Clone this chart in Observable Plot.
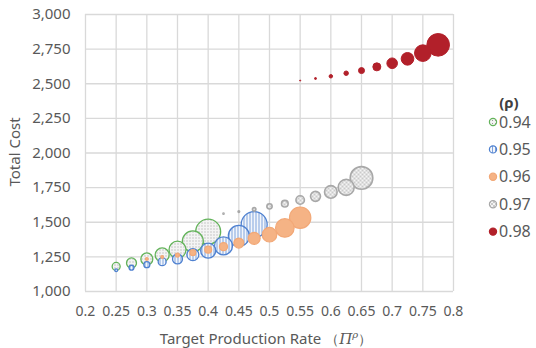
<!DOCTYPE html>
<html><head><meta charset="utf-8">
<script src="https://cdn.jsdelivr.net/npm/d3@7"></script>
<script src="https://cdn.jsdelivr.net/npm/@observablehq/plot@0.6"></script>
<style>
body{margin:0;background:#fff}
svg{font-family:"Noto Sans",sans-serif}
</style></head>
<body><div id="chart"></div>
<script>
const rhoLabels = ["0.94","0.95","0.96","0.97","0.98"];
const rate94 = [0.25,0.275,0.3,0.325,0.35,0.375,0.4];
const cost94 = [1181,1206,1235,1264,1302,1362,1432];
const size94 = [16,25,36,49,72,110,156];
const rate95 = [0.25,0.275,0.3,0.325,0.35,0.375,0.4,0.425,0.45,0.475];
const cost95 = [1153,1172,1194,1215,1235,1266,1295,1329,1401,1483];
const size95 = [2,6,9,16,25,36,56,81,110,169];
const rate96 = [0.3,0.325,0.35,0.375,0.4,0.425,0.45,0.475,0.5,0.525,0.55];
const cost96 = [1235,1249,1263,1280,1302,1324,1350,1384,1410,1459,1533];
const size96 = [2,2,4,9,12,16,25,36,53,86,114];
const rate97 = [0.425,0.45,0.475,0.5,0.525,0.55,0.575,0.6,0.625,0.65];
const cost97 = [1562,1577,1593,1615,1634,1661,1687,1719,1752,1820];
const size97 = [0.3,0.6,3,7,11,18,25,40,64,128];
const rate98 = [0.55,0.575,0.6,0.625,0.65,0.675,0.7,0.725,0.75,0.775];
const cost98 = [2523,2538,2554,2576,2595,2622,2648,2680,2721,2781];
const size98 = [0.3,1,3,5,9,16,28,40,69,128];
const xTicks = [0.2,0.25,0.3,0.35,0.4,0.45,0.5,0.55,0.6,0.65,0.7,0.75,0.8];
const yTicks = [1000,1250,1500,1750,2000,2250,2500,2750,3000];

const rows = (xs, ys, ss) => xs.map((x, i) => ({rate: x, cost: ys[i], size: ss[i]}));
const series = [
  {data: rows(rate94, cost94, size94), fill: "url(#p94)", stroke: "#63b35a", sw: 1.3},
  {data: rows(rate95, cost95, size95), fill: "url(#p95)", stroke: "#4f81d0", sw: 1.3},
  {data: rows(rate96, cost96, size96), fill: "#f5b385", stroke: "#f2a877", sw: 1.2},
  {data: rows(rate97, cost97, size97), fill: "url(#p97)", stroke: "#a8a8a8", sw: 1.6},
  {data: rows(rate98, cost98, size98), fill: "#b2202a", stroke: "#b2202a", sw: 1}
];

const plot = Plot.plot({
  width: 536, height: 348,
  marginLeft: 85, marginRight: 83, marginTop: 14, marginBottom: 57,
  style: {background: "#fff", color: "#595959", fontFamily: "'Noto Sans', sans-serif"},
  x: {domain: [0.2, 0.8]},
  y: {domain: [1000, 3000]},
  r: {type: "sqrt", domain: [0, 169], range: [0, 13]},
  marks: [
    Plot.ruleX(xTicks, {stroke: "#d9d9d9", strokeWidth: 1.3}),
    Plot.ruleY(yTicks, {stroke: "#d9d9d9", strokeWidth: 1.3}),
    Plot.axisX(xTicks, {tickSize: 0, tickPadding: 15, fontSize: 14, fill: "#595959", label: null, tickFormat: d => String(d)}),
    Plot.axisY(yTicks, {tickSize: 0, tickPadding: 15, fontSize: 15, fill: "#595959", label: null, tickFormat: d3.format(",")}),
    ...series.map(s => Plot.dot(s.data, {x: "rate", y: "cost", r: "size", fill: s.fill, stroke: s.stroke, strokeWidth: s.sw}))
  ]
});

const svg = d3.select(plot);
const defs = svg.insert("defs", ":first-child");
const p94 = defs.append("pattern").attr("id", "p94").attr("patternUnits", "userSpaceOnUse").attr("width", 3).attr("height", 3);
p94.append("rect").attr("width", 3).attr("height", 3).attr("fill", "#f4f4f4");
p94.append("rect").attr("width", 1).attr("height", 1).attr("fill", "#9a9a9a");
const p95 = defs.append("pattern").attr("id", "p95").attr("patternUnits", "userSpaceOnUse").attr("width", 3).attr("height", 3);
p95.append("rect").attr("width", 3).attr("height", 3).attr("fill", "#f3f6fb");
p95.append("rect").attr("width", 1).attr("height", 3).attr("fill", "#7fa3dc");
const p97 = defs.append("pattern").attr("id", "p97").attr("patternUnits", "userSpaceOnUse").attr("width", 4).attr("height", 4);
p97.append("rect").attr("width", 4).attr("height", 4).attr("fill", "#f5f5f5");
p97.append("path").attr("d", "M0,0L4,4M4,0L0,4").attr("stroke", "#b8b8b8").attr("stroke-width", 0.7);

// axis titles
svg.append("text").attr("x", 266).attr("y", 344).attr("text-anchor", "middle")
  .attr("font-size", 15).attr("fill", "#595959")
  .call(t => {
    t.append("tspan").text("Target Production Rate ");
    t.append("tspan").attr("font-family", "'DejaVu Serif', serif").attr("font-size", 14).text("（");
    t.append("tspan").attr("font-family", "'DejaVu Serif', serif").attr("font-style", "italic").text("Π");
    t.append("tspan").attr("font-family", "'DejaVu Serif', serif").attr("font-style", "italic").attr("font-size", 10).attr("dy", -6).text("ρ");
    t.append("tspan").attr("font-family", "'DejaVu Serif', serif").attr("font-size", 14).attr("dy", 6).text("）");
  });
svg.append("text").attr("transform", "translate(20,152) rotate(-90)").attr("text-anchor", "middle")
  .attr("font-size", 15).attr("fill", "#595959").text("Total Cost");

// legend
const lg = svg.append("g");
lg.append("text").attr("x", 509).attr("y", 108).attr("text-anchor", "middle")
  .attr("font-size", 15).attr("font-weight", "bold").attr("fill", "#404040").text("(ρ)");
rhoLabels.forEach((lab, i) => {
  const cy = 122 + i * 27.4;
  const s = series[i];
  lg.append("circle").attr("cx", 493).attr("cy", cy).attr("r", 3.6)
    .attr("fill", s.fill).attr("stroke", s.stroke).attr("stroke-width", 1.2);
  lg.append("text").attr("x", 499).attr("y", cy).attr("dy", "0.35em").attr("text-anchor", "start")
    .attr("font-size", 16).attr("fill", "#595959").text(lab);
});

document.getElementById("chart").appendChild(plot);
</script>
</body></html>
